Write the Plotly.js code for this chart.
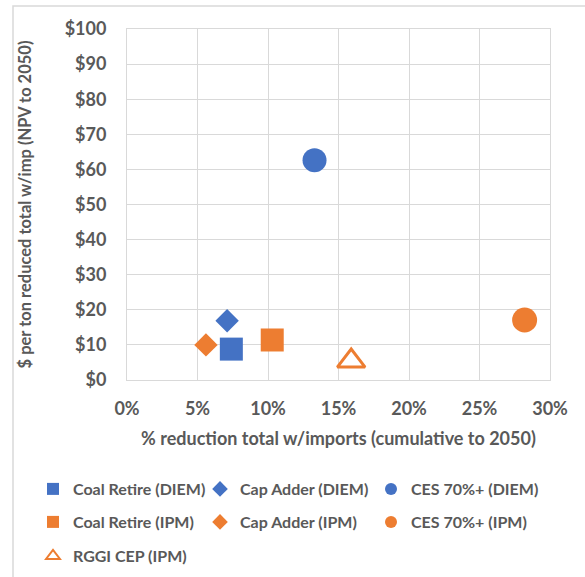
<!DOCTYPE html>
<html><head><meta charset="utf-8">
<script src="https://cdn.plot.ly/plotly-3.0.1.min.js"></script>
<style>html,body{margin:0;padding:0;background:#fff}#chart{width:585px;height:577px}</style>
</head><body><div id="chart"></div>
<script>
const seriesNames = ["Coal Retire (DIEM)","Cap Adder (DIEM)","CES 70%+ (DIEM)","Coal Retire (IPM)","Cap Adder (IPM)","CES 70%+ (IPM)","RGGI CEP (IPM)"];
const xPct = [7.4, 7.1, 13.3, 10.3, 5.6, 28.2, 15.9];
const yCost = [8.8, 16.9, 62.6, 11.4, 10.0, 17.1, 5.4];
const symbols = ["square","diamond","circle","square","diamond","circle","triangle-up-open"];
const colors = ["#4472C4","#4472C4","#4472C4","#ED7D31","#ED7D31","#ED7D31","#ED7D31"];
const sizes = [23, 18, 24, 23, 18, 25, 24];
const xTicks = [0,5,10,15,20,25,30];
const xTickText = ["0%","5%","10%","15%","20%","25%","30%"];
const yTicks = [0,10,20,30,40,50,60,70,80,90,100];
const yTickText = ["$0","$10","$20","$30","$40","$50","$60","$70","$80","$90","$100"];

const FONT = "Lato, 'Open Sans', sans-serif";
const GREY = "#595959";
const legendIds = seriesNames.map((n,i)=> i===0 ? "legend" : "legend"+(i+1));
const traces = seriesNames.map((n,i)=>({
  type:"scatter", mode:"markers", name:n, legend:legendIds[i],
  x:[xPct[i]], y:[yCost[i]],
  marker:{symbol:symbols[i], color:colors[i], size:sizes[i],
          line:{color:colors[i], width: symbols[i].endsWith("open") ? 3 : 0}}
}));

const W=585,H=577,mL=127,mR=35,mT=29,mB=197;
const pw=W-mL-mR, ph=H-mT-mB;
const px2x = p => (p-mL)/pw, py2y = p => 1-(p-mT)/ph;

const colLeft = [33, 200, 371];
const rowTop = [472, 505, 539];
function leg(i){
  const c = i % 3, r = Math.floor(i/3);
  return {orientation:"h", xref:"container", yref:"container", x:colLeft[c]/W, y:1-rowTop[r]/H, xanchor:"left", yanchor:"top",
          itemsizing:"constant",
          font:{size:16, color:GREY, family:FONT, weight:"bold"}, itemwidth:30, bgcolor:"rgba(0,0,0,0)"};
}

const layout = {
  width:W, height:H,
  margin:{l:mL,r:mR,t:mT,b:mB},
  paper_bgcolor:"#fff", plot_bgcolor:"#fff",
  font:{family:FONT, color:GREY},
  showlegend:true,
  xaxis:{range:[0,30], tickvals:xTicks, ticktext:xTickText, showgrid:true, gridcolor:"#D9D9D9",
         zeroline:false, showline:true, linecolor:"#D9D9D9", mirror:true, ticks:"",
         tickfont:{size:18, color:GREY, family:FONT, weight:"bold"}, ticklabelstandoff:12,
         title:{text:"% reduction total w/imports (cumulative to 2050)", font:{size:18, color:GREY, family:FONT, weight:"bold"}, standoff:14},
         fixedrange:true},
  yaxis:{range:[0,100], tickvals:yTicks, ticktext:yTickText, showgrid:true, gridcolor:"#D9D9D9",
         zeroline:false, showline:true, linecolor:"#D9D9D9", mirror:true, ticks:"",
         tickfont:{size:18, color:GREY, family:FONT, weight:"bold"}, ticklabelstandoff:16,
         title:{text:"$ per ton reduced total w/imp (NPV to 2050)", font:{size:16.5, color:GREY, family:FONT, weight:"bold"}, standoff:28},
         fixedrange:true},
  shapes:[{type:"rect", xref:"paper", yref:"paper", x0:px2x(13), x1:px2x(620), y0:py2y(600), y1:py2y(6),
           line:{color:"#D9D9D9", width:1.5}, fillcolor:"rgba(0,0,0,0)", layer:"below"}]
};
legendIds.forEach((id,i)=>{ layout[id] = leg(i); });
Plotly.newPlot("chart", traces, layout, {displayModeBar:false, staticPlot:true});
</script></body></html>
